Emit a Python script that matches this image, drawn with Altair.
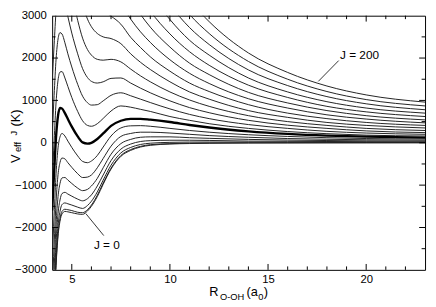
import altair as alt
import pandas as pd

# ---------------- data ----------------
R = [4.0, 4.1, 4.2, 4.3, 4.4, 4.5, 4.65, 4.8, 5.0, 5.3, 5.55, 5.8, 6.0, 6.3,
     6.6, 7.0, 7.5, 8.0, 8.5, 9.0, 10, 11, 12, 14, 16, 18, 20, 23]

V_J0 = [-5200, -4000, -2900, -2200, -1850, -1680, -1620, -1630, -1650, -1680, -1690, -1610, -1500, -1270,
        -980, -620, -320, -180, -100, -60, -30, -18, -12, -6, -4, -2, -1, 0]
V_J10 = [-5130, -3930, -2830, -2140, -1790, -1620, -1570, -1580, -1600, -1640, -1650, -1580, -1470, -1240,
         -950, -600, -300, -160, -85, -45, -20, -9, -4, 0, 1, 2, 2, 3]
V_J20 = [-4920, -3740, -2650, -1960, -1620, -1460, -1420, -1440, -1470, -1520, -1550, -1480, -1380, -1160,
         -880, -530, -240, -110, -40, -10, 10, 17, 18, 16, 13, 12, 11, 10]
V_J30 = [-4590, -3420, -2350, -1670, -1350, -1200, -1170, -1210, -1260, -1330, -1370, -1320, -1230, -1020,
         -760, -420, -150, -30, 30, 50, 60, 60, 55, 40, 35, 30, 25, 20]
V_J40 = [-4120, -2980, -1920, -1270, -960, -830, -820, -880, -960, -1070, -1130, -1100, -1020, -840,
         -590, -270, -20, 80, 130, 140, 140, 120, 105, 80, 64, 53, 45, 39]
V_J50 = [-3530, -2410, -1380, -750, -465, -360, -380, -470, -580, -730, -820, -810, -760, -590,
         -370, -80, 150, 220, 250, 250, 230, 200, 170, 130, 100, 83, 71, 61]
V_J60 = [-2800, -1710, -720, -120, 140, 220, 160, 40, -110, -310, -440, -470, -430, -300,
         -100, 160, 350, 400, 405, 390, 340, 290, 250, 190, 150, 120, 100, 88]
V_J70 = [-1600, -700, 150, 640, 820, 810, 700, 560, 380, 150, 10, -20, 0, 90,
         220, 400, 520, 565, 565, 545, 490, 420, 360, 270, 210, 170, 145, 120]
V_J80 = [-940, 50, 960, 1480, 1670, 1680, 1530, 1330, 1070, 740, 520, 410, 390, 450,
         575, 750, 870, 840, 790, 740, 620, 530, 450, 340, 265, 215, 180, 160]
V_J90 = [180, 1120, 1980, 2450, 2600, 2570, 2360, 2100, 1790, 1380, 1100, 945, 890, 900,
         990, 1120, 1180, 1110, 1030, 950, 800, 670, 570, 430, 340, 270, 230, 200]
V_J100 = [1440, 2310, 3120, 3540, 3630, 3560, 3290, 2980, 2590, 2100, 1750, 1540, 1450, 1410,
          1440, 1520, 1530, 1410, 1290, 1180, 990, 830, 710, 530, 415, 340, 280, 240]
V_J110 = [2820, 3630, None, None, None, None, None, None, 3480, 2890, 2470, 2200, 2070, 1970,
          1950, 1970, 1910, 1740, 1580, 1440, 1200, 1010, 860, 640, 500, 410, 340, 290]
V_J120 = [None, None, None, None, None, None, None, None, None, 3750, 3260, 2920, 2740, 2580,
          2500, 2460, 2340, 2100, 1900, 1730, 1440, 1200, 1030, 760, 600, 480, 410, 350]
V_J130 = [None, None, None, None, None, None, None, None, None, None, 4120, 3700, 3470, 3240,
          3110, 2990, 2800, 2490, 2250, 2030, 1690, 1410, 1210, 900, 700, 570, 480, 410]
V_J140 = [None, None, None, None, None, None, None, None, None, None, None, None, None, 3960,
          3760, 3570, 3290, 2920, 2620, 2370, 1960, 1640, 1400, 1040, 820, 660, 560, 470]
V_J150 = [None, None, None, None, None, None, None, None, None, None, None, None, None, None,
          None, 4180, 3830, 3380, 3030, 2730, 2260, 1880, 1610, 1190, 940, 760, 640, 540]
V_J160 = [None, None, None, None, None, None, None, None, None, None, None, None, None, None,
          None, None, 4390, 3860, 3460, 3110, 2570, 2150, 1830, 1360, 1070, 860, 730, 620]
V_J170 = [None, None, None, None, None, None, None, None, None, None, None, None, None, None,
          None, None, None, 4380, 3910, 3520, 2910, 2420, 2070, 1530, 1200, 970, 820, 700]
V_J180 = [None, None, None, None, None, None, None, None, None, None, None, None, None, None,
          None, None, None, None, 4400, 3950, 3260, 2720, 2320, 1720, 1350, 1090, 920, 780]
V_J190 = [None, None, None, None, None, None, None, None, None, None, None, None, None, None,
          None, None, None, None, None, 4400, 3640, 3030, 2580, 1920, 1500, 1210, 1020, 870]
V_J200 = [None, None, None, None, None, None, None, None, None, None, None, None, None, None,
          None, None, None, None, None, 4890, 4030, 3360, 2860, 2120, 1660, 1340, 1130, 960]

J_VALUES = [0, 10, 20, 30, 40, 50, 60, 70, 80, 90, 100, 110, 120, 130, 140, 150, 160, 170, 180, 190, 200]
CURVES = [V_J0, V_J10, V_J20, V_J30, V_J40, V_J50, V_J60, V_J70, V_J80, V_J90, V_J100,
          V_J110, V_J120, V_J130, V_J140, V_J150, V_J160, V_J170, V_J180, V_J190, V_J200]
BOLD_J = 70

X_MAJOR = [5, 10, 15, 20]
X_MINOR = [6, 7, 8, 9, 11, 12, 13, 14, 16, 17, 18, 19, 21, 22]
Y_LABELS = [-3000, -2000, -1000, 0, 1000, 2000, 3000]
Y_MAJOR = [-2000, -1000, 0, 1000, 2000]
Y_MINOR = [-2500, -1500, -500, 500, 1500, 2500]

ANNOT_TEXT = ["J = 0", "J = 200"]
ANNOT_R = [6.13, 18.67]
ANNOT_V = [-2506, 1989]
LEADER_R = [5.72, 17.56]
LEADER_V = [-1674, 1449]
LEADER_R2 = [6.63, 18.6]
LEADER_V2 = [-2191, 1940]

# ---------------- build tables ----------------
rows = []
for j, vals in zip(J_VALUES, CURVES):
    for r, v in zip(R, vals):
        if v is not None:
            rows.append({"R": r, "V": v, "J": j})
df = pd.DataFrame(rows)

W, H = 380, 259
FONT = "Liberation Sans"
xs = alt.Scale(domain=[4, 23], nice=False, zero=False)
ys = alt.Scale(domain=[-3000, 3000], nice=False, zero=False)

x_axis = alt.Axis(values=X_MAJOR, format="d", title=None, ticks=False, tickSize=0,
                  domain=False, grid=False, labelPadding=4, labelFont=FONT,
                  labelFontSize=11.5, labelColor="black")
y_axis = alt.Axis(values=Y_LABELS, format="d", title=None, ticks=False, tickSize=0,
                  domain=False, grid=False, labelPadding=6, labelFont=FONT,
                  labelFontSize=11.5, labelColor="black")


def X(field="R"):
    return alt.X(f"{field}:Q", scale=xs, axis=x_axis)


def Y(field="V"):
    return alt.Y(f"{field}:Q", scale=ys, axis=y_axis)


thin = alt.Chart(df).transform_filter(alt.datum.J != BOLD_J).mark_line(
    clip=True, interpolate="monotone", color="#222222", strokeWidth=1
).encode(x=X(), y=Y(), detail="J:N")

bold = alt.Chart(df).transform_filter(alt.datum.J == BOLD_J).mark_line(
    clip=True, interpolate="monotone", color="black", strokeWidth=2.4
).encode(x=X(), y=Y(), detail="J:N")

layers = [thin, bold]

# inward ticks on all four sides
for vals, ln in [(X_MAJOR, 6), (X_MINOR, 3.5)]:
    tdf = pd.DataFrame({"R": vals})
    layers.append(alt.Chart(tdf).mark_rule(color="black", strokeWidth=1).encode(
        x=X(), y=alt.value(H), y2=alt.value(H - ln)))
    layers.append(alt.Chart(tdf).mark_rule(color="black", strokeWidth=1).encode(
        x=X(), y=alt.value(0), y2=alt.value(ln)))
for vals, ln in [(Y_MAJOR, 6), (Y_MINOR, 3.5)]:
    tdf = pd.DataFrame({"V": vals})
    layers.append(alt.Chart(tdf).mark_rule(color="black", strokeWidth=1).encode(
        y=Y(), x=alt.value(0), x2=alt.value(ln)))
    layers.append(alt.Chart(tdf).mark_rule(color="black", strokeWidth=1).encode(
        y=Y(), x=alt.value(W), x2=alt.value(W - ln)))

# annotations
adf = pd.DataFrame({"R": ANNOT_R, "V": ANNOT_V, "label": ANNOT_TEXT})
layers.append(alt.Chart(adf).mark_text(
    align="left", baseline="alphabetic", font=FONT, fontSize=12, color="black"
).encode(x=X(), y=Y(), text="label:N"))
ldf = pd.DataFrame({"R": LEADER_R, "V": LEADER_V, "R2": LEADER_R2, "V2": LEADER_V2})
layers.append(alt.Chart(ldf).mark_rule(color="black", strokeWidth=0.8).encode(
    x=X(), y=Y(), x2="R2:Q", y2="V2:Q"))

one = pd.DataFrame({"k": [0]})


def piece(s, x, y, size, angle=0):
    return alt.Chart(one).mark_text(
        text=s, font=FONT, fontSize=size, align="left",
        baseline="alphabetic", color="black"
    ).encode(x=alt.value(x), y=alt.value(y), angle=alt.value(angle))


# y-axis title  V_eff^J (K)
layers += [
    piece("V", -33, 150, 13, 270),
    piece("eff", -31.5, 139, 9.5, 270),
    piece("J", -36, 122, 9.5, 270),
    piece("(K)", -33, 113, 13, 270),
]
# x-axis title  R_O-OH (a_0)
layers += [
    piece("R", 160, 286, 13),
    piece("O-OH", 171, 289.5, 9.5),
    piece("(a", 198, 286, 13),
    piece("0", 210, 289.5, 9.5),
    piece(")", 215.5, 286, 13),
]

chart = alt.layer(*layers).properties(
    width=W, height=H,
    autosize=alt.AutoSizeParams(type="none"),
    padding={"left": 45, "top": 5, "right": 3, "bottom": 35},
).configure_view(stroke="black", strokeWidth=1)

chart.save("out.html", embed_options={"renderer": "svg", "actions": False})
